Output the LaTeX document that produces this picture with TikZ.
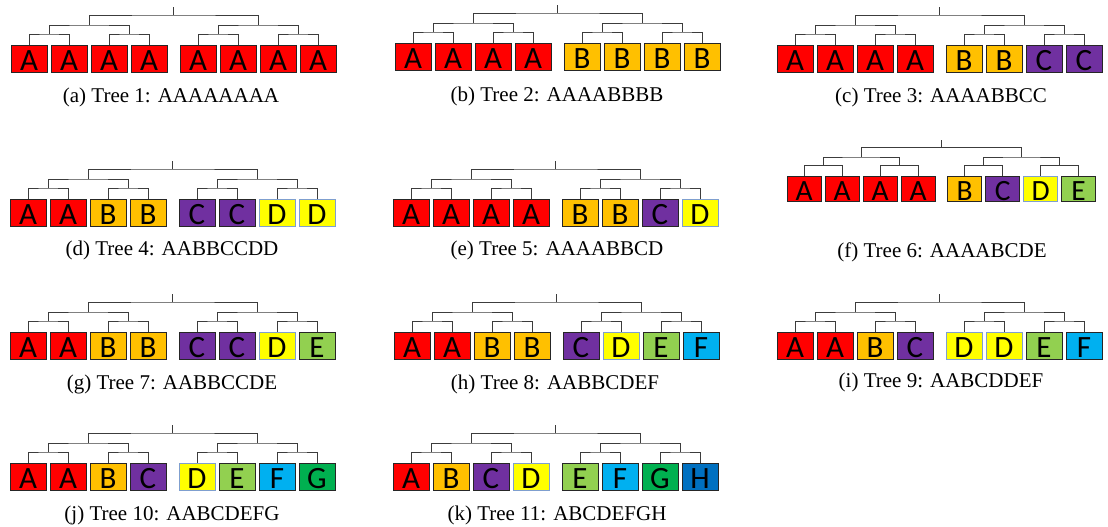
\documentclass[tikz,border=0pt]{standalone}
\usepackage{fontspec}
\setmainfont{Liberation Serif}
\newfontfamily\boxfont{Carlito}
\definecolor{cA}{HTML}{FF0000}
\definecolor{cB}{HTML}{FFC000}
\definecolor{cC}{HTML}{7030A0}
\definecolor{cD}{HTML}{FFFF00}
\definecolor{cE}{HTML}{92D050}
\definecolor{cF}{HTML}{00B0F0}
\definecolor{cG}{HTML}{00B050}
\definecolor{cH}{HTML}{0070C0}
\definecolor{dark}{HTML}{262626}
\colorlet{bA}{dark}\colorlet{bB}{dark}\colorlet{bC}{dark}
\definecolor{bD}{HTML}{7F9FCF}
\colorlet{bE}{dark}\colorlet{bF}{dark}\colorlet{bG}{dark}\colorlet{bH}{dark}
\definecolor{branchcol}{HTML}{3C3C3C}
\tikzset{
  leaf/.style={rectangle, line width=0.9pt, inner sep=0pt, text depth=0pt, text=black},
  branch/.style={draw=branchcol, line width=0.9pt},
  caption/.style={anchor=base, inner sep=0pt, font=\fontsize{21pt}{21pt}\selectfont},
}
% #1 id, #2 x0, #3 top of boxes, #4 scale, #5 letters, #6 caption x, #7 caption baseline, #8 caption
\newcommand{\mytree}[8]{%
  \pgfmathsetmacro{\fs}{31*#4}%
  \foreach \L [count=\i] in {#5} {
    \pgfmathsetmacro{\cx}{#2 + #4*((\i-1)*40 + (\i>4)*9 + 18)}
    \pgfmathsetmacro{\cy}{#3 + #4*13.5}
    \node[leaf, fill=c\L, draw=b\L, minimum width={#4*36pt}, minimum height={#4*27pt},
          text height={#4*24pt}, font=\boxfont\fontsize{\fs pt}{\fs pt}\selectfont] (#1\i) at (\cx,\cy) {\L};
  }
  \coordinate (#1p1) at ({#2+#4*38},{#3-11*#4});
  \coordinate (#1p2) at ({#2+#4*118},{#3-11*#4});
  \coordinate (#1p3) at ({#2+#4*207},{#3-11*#4});
  \coordinate (#1p4) at ({#2+#4*287},{#3-11*#4});
  \coordinate (#1q1) at ({#2+#4*78},{#3-20*#4});
  \coordinate (#1q2) at ({#2+#4*247},{#3-20*#4});
  \coordinate (#1r) at ({#2+#4*162.5},{#3-30*#4});
  \coordinate (#1top) at ({#2+#4*162.5},{#3-38*#4});
  \draw[branch] (#11.north) |- (#1p1) -| (#12.north);
  \draw[branch] (#13.north) |- (#1p2) -| (#14.north);
  \draw[branch] (#15.north) |- (#1p3) -| (#16.north);
  \draw[branch] (#17.north) |- (#1p4) -| (#18.north);
  \draw[branch] (#1p1) |- (#1q1) -| (#1p2);
  \draw[branch] (#1p3) |- (#1q2) -| (#1p4);
  \draw[branch] (#1q1) |- (#1r) -| (#1q2);
  \draw[branch] (#1r) -- (#1top);
  \node[caption] (#1cap) at (#6,#7) {#8};
}
\begin{document}
\begin{tikzpicture}[x=1pt,y=-1pt]
\useasboundingbox[fill=white] (0,0) rectangle (1108,527);
\mytree{a}{11}{45}{1}{A,A,A,A,A,A,A,A}{171}{102}{(a) Tree 1: AAAAAAAA}
\mytree{b}{395}{43}{1}{A,A,A,A,B,B,B,B}{557}{101}{(b) Tree 2: AAAABBBB}
\mytree{c}{777}{45}{1}{A,A,A,A,B,B,C,C}{941}{102}{(c) Tree 3: AAAABBCC}
\mytree{d}{10}{199}{1}{A,A,B,B,C,C,D,D}{172}{255}{(d) Tree 4: AABBCCDD}
\mytree{e}{393}{199}{1}{A,A,A,A,B,B,C,D}{557}{255}{(e) Tree 5: AAAABBCD}
\mytree{f}{787}{176}{0.95}{A,A,A,A,B,C,D,E}{942}{257}{(f) Tree 6: AAAABCDE}
\mytree{g}{10}{332}{1}{A,A,B,B,C,C,D,E}{172}{389}{(g) Tree 7: AABBCCDE}
\mytree{h}{394}{332}{1}{A,A,B,B,C,D,E,F}{555}{389}{(h) Tree 8: AABBCDEF}
\mytree{i}{777}{332}{1}{A,A,B,C,D,D,E,F}{941}{387}{(i) Tree 9: AABCDDEF}
\mytree{j}{10}{463}{1}{A,A,B,C,D,E,F,G}{172}{520}{(j) Tree 10: AABCDEFG}
\mytree{k}{393}{463}{1}{A,B,C,D,E,F,G,H}{557}{520}{(k) Tree 11: ABCDEFGH}
\end{tikzpicture}
\end{document}
